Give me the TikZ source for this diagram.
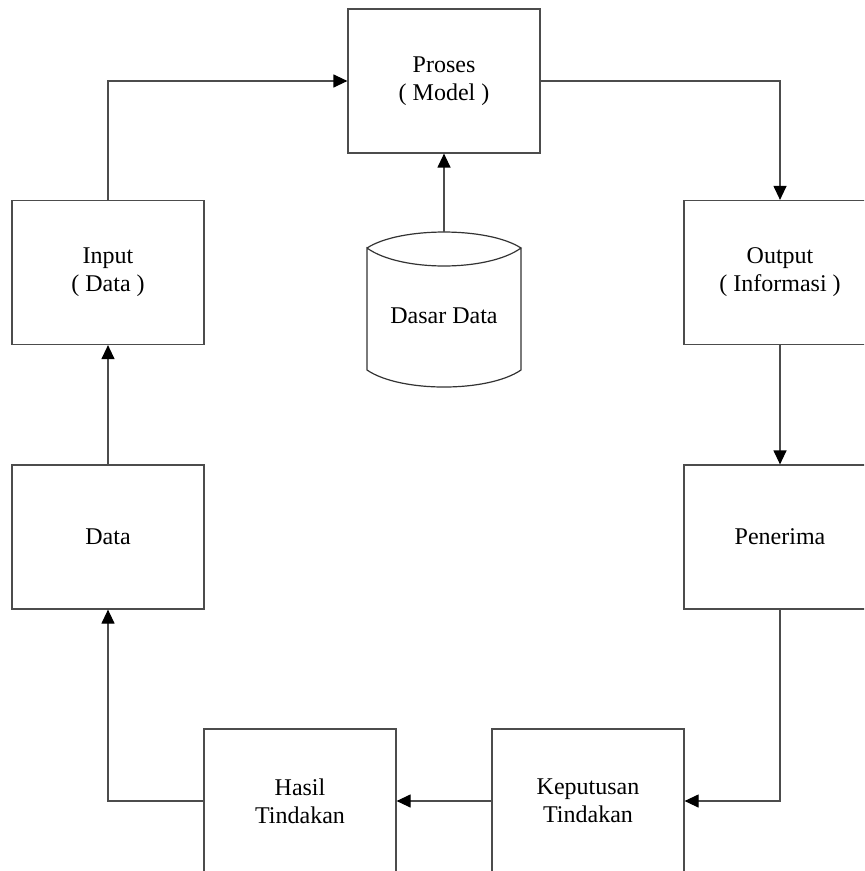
\documentclass[tikz,border=0pt]{standalone}
\usepackage{fontspec}
\setmainfont{Liberation Serif}
\usetikzlibrary{arrows.meta,positioning}

\begin{document}
\begin{tikzpicture}[x=0.5pt,y=-0.5pt,
    box/.style={draw=black!70,line width=0.6pt,rectangle,minimum width=96pt,minimum height=72pt,
      inner sep=0pt,align=center,font=\fontsize{12}{14}\selectfont},
    line/.style={draw=black!70,line width=0.6pt,-{Triangle[length=7pt,width=6.5pt,color=black]}}]
  \useasboundingbox (0,0) rectangle (864,871);
  \clip (0,0) rectangle (864,871);
  % boxes
  \node[box] (proses) at (444,81) {Proses\\( Model )};
  \node[box] (input) at (108,272.5) {Input\\( Data )};
  \node[box] (output) at (780,272.5) {Output\\( Informasi )};
  \node[box] (data) at (108,537) {Data};
  \node[box] (penerima) at (780,537) {Penerima};
  \node[box] (hasil) at (300,801) {Hasil\\Tindakan};
  \node[box] (keputusan) at (588,801) {Keputusan\\Tindakan};
  % database
  \draw[black!80,line width=0.6pt] (367,248) .. controls (400,226.7) and (488,226.7) .. (521,248)
       .. controls (488,272) and (400,272) .. (367,248) -- (367,370)
       .. controls (400,392.7) and (488,392.7) .. (521,370) -- (521,248);
  \coordinate (dbtop) at (444,232);
  \node[font=\fontsize{12}{14}\selectfont] (db) at (444,316) {Dasar Data};
  % connectors
  \draw[line] (input.north) |- (proses.west);
  \draw[line] (proses.east) -| (output.north);
  \draw[line] (dbtop) -- (proses.south);
  \draw[line] (output.south) -- (penerima.north);
  \draw[line] (penerima.south) |- (keputusan.east);
  \draw[line] (keputusan.west) -- (hasil.east);
  \draw[line] (hasil.west) -| (data.south);
  \draw[line] (data.north) -- (input.south);
\end{tikzpicture}
\end{document}
